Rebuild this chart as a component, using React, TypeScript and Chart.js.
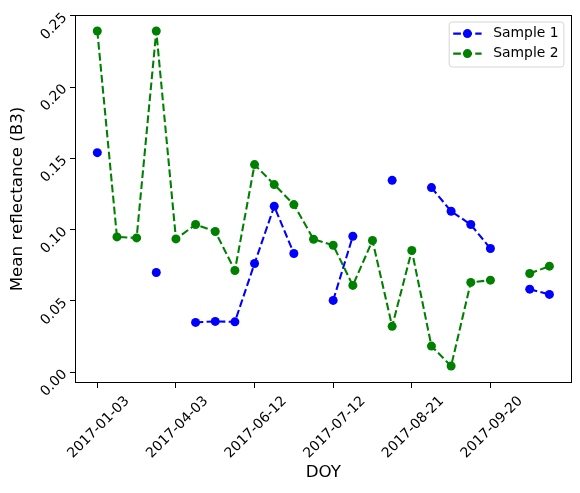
import React, { useEffect, useRef } from "react";
import { Chart, registerables } from "chart.js";

Chart.register(...registerables);

const sample1: (number | null)[] = [
  0.154, null, null, 0.070, null, 0.035, 0.0357, 0.0354, 0.0763, 0.1164, 0.0833, null,
  0.0504, 0.0954, null, 0.1346, null, 0.1295, 0.1129, 0.1036, 0.0868, null, 0.0583, 0.0546,
];
const sample2: (number | null)[] = [
  0.2393, 0.0949, 0.0942, 0.2393, 0.0935, 0.1036, 0.0987, 0.0714, 0.1456, 0.1316, 0.1176, 0.0933,
  0.0891, 0.0609, 0.0924, 0.0322, 0.0854, 0.0184, 0.0044, 0.0630, 0.0646, null, 0.0693, 0.0744,
];
const tickPositions = [0, 4, 8, 12, 16, 20];
const tickLabels = ["2017-01-03", "2017-04-03", "2017-06-12", "2017-07-12", "2017-08-21", "2017-09-20"];
const yTicks = [0, 0.05, 0.1, 0.15, 0.2, 0.25];
const seriesNames = ["Sample 1", "Sample 2"];
const seriesColors = ["#0000ff", "#008000"];

const FONT = "'DejaVu Sans', sans-serif";
const DASH = [7.7, 3.33];
const LW = 2.08;
const PR = 4.5;

const toPoints = (arr: (number | null)[]) => arr.map((v, i) => ({ x: i, y: v }));

const framePlugin = {
  id: "frameAndLegend",
  afterDraw(chart: any) {
    const { ctx, chartArea } = chart;
    ctx.save();
    ctx.strokeStyle = "#000";
    ctx.lineWidth = 1;
    const l = Math.round(chartArea.left) + 0.5;
    const t = Math.round(chartArea.top) + 0.5;
    const r = Math.round(chartArea.right) - 0.5;
    const b = Math.round(chartArea.bottom) - 0.5;
    ctx.strokeRect(l, t, r - l, b - t);

    // legend
    const bx = chartArea.right - 122.5;
    const by = chartArea.top + 7;
    const bw = 114.7;
    const bh = 45;
    ctx.beginPath();
    const rad = 3;
    ctx.moveTo(bx + rad, by);
    ctx.lineTo(bx + bw - rad, by);
    ctx.arcTo(bx + bw, by, bx + bw, by + rad, rad);
    ctx.lineTo(bx + bw, by + bh - rad);
    ctx.arcTo(bx + bw, by + bh, bx + bw - rad, by + bh, rad);
    ctx.lineTo(bx + rad, by + bh);
    ctx.arcTo(bx, by + bh, bx, by + bh - rad, rad);
    ctx.lineTo(bx, by + rad);
    ctx.arcTo(bx, by, bx + rad, by, rad);
    ctx.closePath();
    ctx.fillStyle = "rgba(255,255,255,0.8)";
    ctx.fill();
    ctx.strokeStyle = "#d6d6d6";
    ctx.lineWidth = 1;
    ctx.stroke();

    seriesNames.forEach((name, i) => {
      const y = by + 11.6 + i * 20;
      const x0 = bx + 4;
      const x1 = bx + 32.4;
      ctx.strokeStyle = seriesColors[i];
      ctx.lineWidth = LW;
      ctx.setLineDash(DASH);
      ctx.beginPath();
      ctx.moveTo(x0, y);
      ctx.lineTo(x1, y);
      ctx.stroke();
      ctx.setLineDash([]);
      ctx.fillStyle = seriesColors[i];
      ctx.beginPath();
      ctx.arc((x0 + x1) / 2, y, PR, 0, Math.PI * 2);
      ctx.fill();
      ctx.fillStyle = "#000";
      ctx.font = `13.9px ${FONT}`;
      ctx.textAlign = "left";
      ctx.textBaseline = "middle";
      ctx.fillText(name, bx + 44, y);
    });
    ctx.restore();
  },
};

export default function App() {
  const ref = useRef<HTMLCanvasElement | null>(null);
  useEffect(() => {
    document.body.style.margin = "0";
    const canvas = ref.current;
    if (!canvas) return;
    const datasets = [sample1, sample2].map((arr, i) => ({
      label: seriesNames[i],
      data: toPoints(arr),
      borderColor: seriesColors[i],
      backgroundColor: seriesColors[i],
      borderWidth: LW,
      borderDash: DASH,
      pointRadius: PR,
      pointBorderWidth: 0,
      pointBackgroundColor: seriesColors[i],
      spanGaps: false,
      tension: 0,
      order: i === 0 ? 1 : 0,
    }));
    const chart = new Chart(canvas, {
      type: "line",
      data: { datasets },
      plugins: [framePlugin],
      options: {
        animation: false,
        responsive: false,
        devicePixelRatio: 1,
        layout: { padding: { top: 15, right: 8.3, left: 0, bottom: 0 } },
        plugins: { legend: { display: false }, tooltip: { enabled: false } },
        scales: {
          x: {
            type: "linear",
            min: -1.135,
            max: 24.135,
            afterBuildTicks: (scale: any) => {
              scale.ticks = tickPositions.map((v) => ({ value: v }));
            },
            afterFit: (scale: any) => {
              scale.height = 110;
            },
            border: { display: false },
            grid: { drawOnChartArea: false, drawTicks: true, tickLength: 5, color: "#000", tickWidth: 1 },
            ticks: {
              autoSkip: false,
              minRotation: 45,
              maxRotation: 45,
              labelOffset: 30,
              padding: 5,
              color: "#000",
              font: { family: FONT, size: 13.9 },
              callback: (value: any) => {
                const k = tickPositions.indexOf(Number(value));
                return k >= 0 ? tickLabels[k] : "";
              },
            },
            title: {
              display: true,
              text: "DOY",
              color: "#000",
              font: { family: FONT, size: 16.7 },
              padding: { top: 0, bottom: 10 },
            },
          },
          y: {
            type: "linear",
            min: -0.0075,
            max: 0.2505,
            afterBuildTicks: (scale: any) => {
              scale.ticks = yTicks.map((v) => ({ value: v }));
            },
            afterFit: (scale: any) => {
              scale.width = 75;
            },
            border: { display: false },
            grid: { drawOnChartArea: false, drawTicks: true, tickLength: 5, color: "#000", tickWidth: 1 },
            ticks: {
              minRotation: 45,
              maxRotation: 45,
              padding: 5,
              color: "#000",
              font: { family: FONT, size: 13.9 },
              callback: (value: any) => Number(value).toFixed(2),
            },
            title: {
              display: true,
              text: "Mean reflectance (B3)",
              color: "#000",
              font: { family: FONT, size: 16.7 },
              padding: { top: 7.5, bottom: 0 },
            },
          },
        },
      } as any,
    });
    return () => chart.destroy();
  }, []);
  return (
    <div style={{ width: 580, height: 493 }}>
      <canvas ref={ref} width={580} height={493} style={{ display: "block" }} />
    </div>
  );
}
